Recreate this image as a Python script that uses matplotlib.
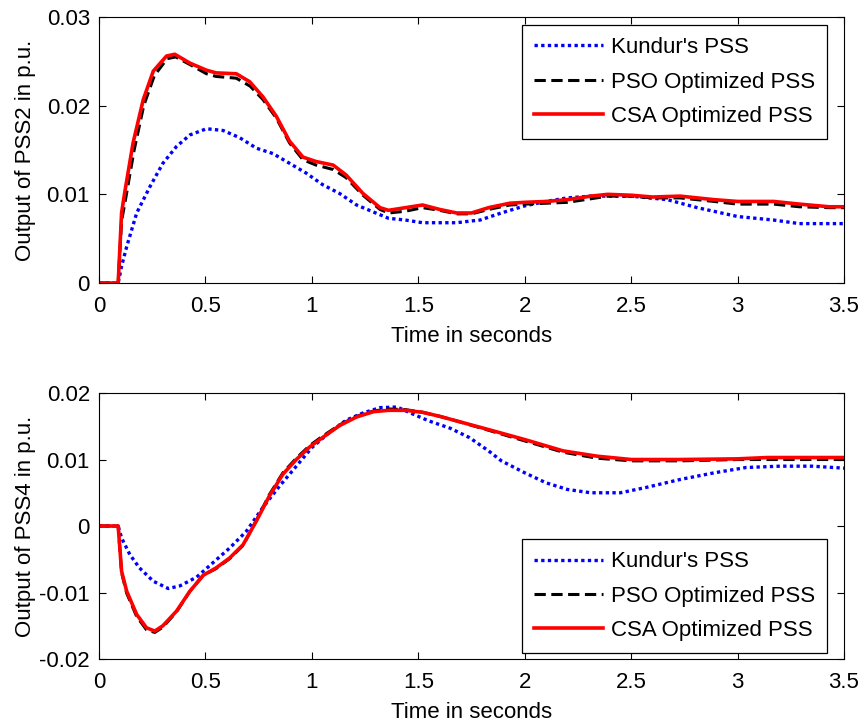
import numpy as np
import matplotlib
matplotlib.use("Agg")
import matplotlib.pyplot as plt

plt.rcParams['font.family'] = ['Liberation Sans', 'DejaVu Sans']
plt.rcParams['font.size'] = 16

# ---- PSS2 output (top) ----
t_kun2 = [0, 0.09, 0.106, 0.13, 0.177, 0.24, 0.30, 0.364, 0.427, 0.505, 0.583, 0.66, 0.74, 0.817,
          0.895, 0.973, 1.05, 1.13, 1.21, 1.29, 1.36, 1.44, 1.52, 1.68, 1.75, 1.79, 1.89, 2.0,
          2.1, 2.2, 2.31, 2.5, 2.67, 2.81, 3.0, 3.17, 3.29, 3.5]
y_kun2 = [0, 0, 0.0019, 0.0041, 0.0079, 0.0109, 0.0135, 0.0154, 0.0167, 0.0174, 0.0172, 0.0164,
          0.0152, 0.0146, 0.0135, 0.0124, 0.0111, 0.0101, 0.0088, 0.0080, 0.0073, 0.0071, 0.0068,
          0.0068, 0.0070, 0.0071, 0.0079, 0.0087, 0.0092, 0.0096, 0.0098, 0.0098, 0.0094, 0.0085,
          0.0075, 0.0071, 0.0067, 0.0067]

t_pso2 = [0, 0.09, 0.106, 0.125, 0.165, 0.21, 0.26, 0.32, 0.36, 0.43, 0.505, 0.55, 0.645, 0.71,
          0.77, 0.833, 0.895, 0.958, 1.02, 1.1, 1.16, 1.24, 1.32, 1.36, 1.44, 1.52, 1.6, 1.68,
          1.75, 1.83, 1.93, 2.0, 2.1, 2.2, 2.31, 2.39, 2.5, 2.6, 2.73, 2.89, 3.0, 3.17, 3.29,
          3.43, 3.5]
y_pso2 = [0, 0, 0.0070, 0.0095, 0.0150, 0.0200, 0.0234, 0.0253, 0.0255, 0.0246, 0.0236, 0.0233,
          0.0231, 0.0222, 0.0207, 0.0186, 0.0158, 0.0139, 0.0133, 0.0128, 0.0119, 0.0099, 0.0083,
          0.0079, 0.0081, 0.0085, 0.0082, 0.0078, 0.0078, 0.0083, 0.0088, 0.0089, 0.0090, 0.0091,
          0.0095, 0.0098, 0.0098, 0.0096, 0.0096, 0.0092, 0.0089, 0.0089, 0.0086, 0.0085, 0.0085]

t_csa2 = [0, 0.09, 0.106, 0.12, 0.16, 0.208, 0.255, 0.317, 0.356, 0.427, 0.505, 0.55, 0.645, 0.708,
          0.77, 0.833, 0.895, 0.958, 1.02, 1.1, 1.16, 1.24, 1.32, 1.36, 1.44, 1.52, 1.6, 1.68,
          1.75, 1.83, 1.93, 2.0, 2.1, 2.2, 2.31, 2.39, 2.5, 2.6, 2.73, 2.89, 3.0, 3.17, 3.29,
          3.43, 3.5]
y_csa2 = [0, 0, 0.0079, 0.0101, 0.0158, 0.0207, 0.0239, 0.0256, 0.0258, 0.0248, 0.0240, 0.0237,
          0.0236, 0.0227, 0.0210, 0.0188, 0.0160, 0.0142, 0.0137, 0.0133, 0.0122, 0.0101, 0.0085,
          0.0082, 0.0085, 0.0088, 0.0083, 0.0079, 0.0079, 0.0085, 0.0090, 0.0091, 0.0092, 0.0094,
          0.0098, 0.0100, 0.0099, 0.0097, 0.0098, 0.0094, 0.0092, 0.0092, 0.0089, 0.0086, 0.0086]

# ---- PSS4 output (bottom) ----
t_kun4 = [0, 0.09, 0.106, 0.145, 0.19, 0.255, 0.325, 0.38, 0.458, 0.536, 0.614, 0.692, 0.77, 0.848,
          0.927, 1.0, 1.08, 1.16, 1.24, 1.32, 1.4, 1.47, 1.55, 1.65, 1.74, 1.83, 1.89, 2.0, 2.1,
          2.2, 2.31, 2.45, 2.57, 2.73, 2.89, 3.04, 3.2, 3.35, 3.5]
y_kun4 = [0, 0, -0.0018, -0.0043, -0.0063, -0.0083, -0.0094, -0.0090, -0.0077, -0.0055, -0.0033,
          -0.0008, 0.0028, 0.0060, 0.0090, 0.0118, 0.0140, 0.0159, 0.0170, 0.0178, 0.0179, 0.0169,
          0.0158, 0.0147, 0.0133, 0.0113, 0.0098, 0.0080, 0.0065, 0.0055, 0.0050, 0.0050, 0.0058,
          0.0070, 0.0080, 0.0088, 0.0090, 0.0090, 0.0087]

t_pso4 = [0, 0.09, 0.106, 0.13, 0.177, 0.223, 0.262, 0.30, 0.364, 0.427, 0.49, 0.55, 0.614, 0.677,
          0.74, 0.80, 0.864, 0.927, 0.99, 1.05, 1.13, 1.21, 1.29, 1.36, 1.44, 1.52, 1.6, 1.68,
          1.83, 2.0, 2.18, 2.34, 2.5, 2.73, 3.0, 3.14, 3.5]
y_pso4 = [0, 0, -0.0070, -0.0101, -0.0136, -0.0156, -0.0160, -0.0152, -0.0129, -0.0098, -0.0074,
          -0.0064, -0.0049, -0.0029, 0.0009, 0.0047, 0.0080, 0.0102, 0.0121, 0.0135, 0.0152,
          0.0165, 0.0173, 0.0176, 0.0175, 0.0171, 0.0165, 0.0158, 0.0144, 0.0128, 0.0111, 0.0102,
          0.0098, 0.0098, 0.0100, 0.0100, 0.0100]

t_csa4 = [0, 0.09, 0.106, 0.13, 0.177, 0.223, 0.262, 0.30, 0.364, 0.427, 0.49, 0.55, 0.614, 0.677,
          0.74, 0.80, 0.864, 0.927, 0.99, 1.05, 1.13, 1.21, 1.29, 1.36, 1.44, 1.52, 1.6, 1.68,
          1.83, 2.0, 2.18, 2.34, 2.5, 2.73, 3.0, 3.14, 3.5]
y_csa4 = [0, 0, -0.0068, -0.0098, -0.0133, -0.0153, -0.0158, -0.0150, -0.0128, -0.0098, -0.0074,
          -0.0063, -0.0048, -0.0028, 0.0008, 0.0045, 0.0078, 0.0100, 0.0119, 0.0133, 0.0151,
          0.0164, 0.0172, 0.0174, 0.0174, 0.0171, 0.0165, 0.0158, 0.0145, 0.0130, 0.0113, 0.0105,
          0.0100, 0.0100, 0.0101, 0.0103, 0.0103]

labels = ["Kundur's PSS", "PSO Optimized PSS", "CSA Optimized PSS"]
x_ticks = [0, 0.5, 1, 1.5, 2, 2.5, 3, 3.5]
x_tick_labels = ["0", "0.5", "1", "1.5", "2", "2.5", "3", "3.5"]

fig = plt.figure(figsize=(8.64, 7.27), dpi=100)
ax1 = fig.add_axes([0.1146, 0.6107, 0.8623, 0.3659])
ax2 = fig.add_axes([0.1146, 0.0935, 0.8623, 0.3659])


def draw(ax, tk, yk, tp, yp, tc, yc, ylab, yticks, yticklabels, loc, anchor):
    ax.plot(tk, yk, color='#0000ff', lw=2.4, ls=(0, (1, 1)), label=labels[0])
    ax.plot(tp, yp, color='black', lw=2.2, ls=(0, (3.7, 1.8)), label=labels[1])
    ax.plot(tc, yc, color='#ff0000', lw=2.6, ls='-', label=labels[2])
    ax.set_xlim(0, 3.5)
    ax.set_ylim(yticks[0], yticks[-1])
    ax.set_xticks(x_ticks)
    ax.set_xticklabels(x_tick_labels)
    ax.set_yticks(yticks)
    ax.set_yticklabels(yticklabels)
    ax.tick_params(direction='in', top=True, right=True, length=5, width=0.8)
    ax.tick_params(axis='x', pad=9)
    ax.tick_params(axis='y', pad=6.5)
    ax.set_xlabel('Time in seconds', labelpad=7)
    ax.set_ylabel(ylab)
    ax.yaxis.set_label_coords(-0.084, 0.5)
    leg = ax.legend(loc=loc, bbox_to_anchor=anchor, fancybox=False, framealpha=1,
                    edgecolor='black', handlelength=3.1, handletextpad=0.35,
                    borderpad=0.55, labelspacing=0.6, borderaxespad=0)
    leg.get_frame().set_linewidth(0.9)


draw(ax1, t_kun2, y_kun2, t_pso2, y_pso2, t_csa2, y_csa2, 'Output of PSS2 in p.u.',
     [0, 0.01, 0.02, 0.03], ["0", "0.01", "0.02", "0.03"], 'upper right', (0.977, 0.97))
draw(ax2, t_kun4, y_kun4, t_pso4, y_pso4, t_csa4, y_csa4, 'Output of PSS4 in p.u.',
     [-0.02, -0.01, 0, 0.01, 0.02], ["-0.02", "-0.01", "0", "0.01", "0.02"], 'lower right',
     (0.977, 0.022))

fig.savefig('out.png', dpi=100)
